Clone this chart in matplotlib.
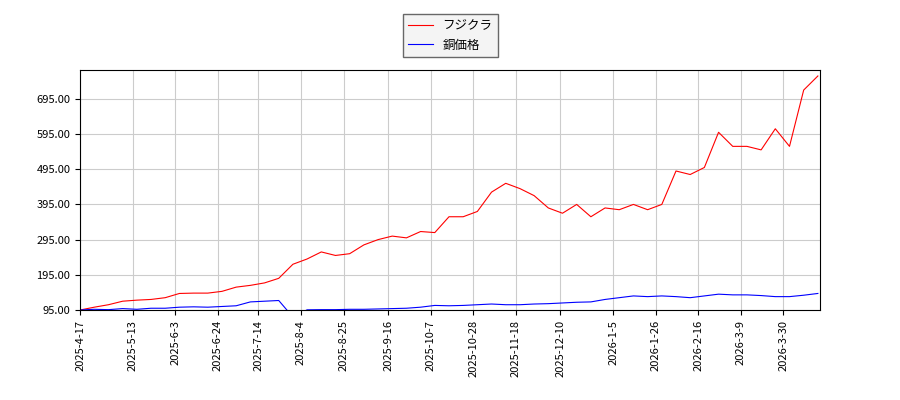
import numpy as np
import pandas as pd
import matplotlib
matplotlib.use("Agg")
import matplotlib.pyplot as plt

plt.rcParams['font.family'] = ['Noto Sans CJK JP', 'DejaVu Sans']

dates = pd.date_range("2025-04-17", periods=53, freq="7D")
fujikura = [95, 103, 110, 120, 123, 125, 130, 142, 143, 143, 148, 160, 165, 172, 185, 225,
            240, 260, 250, 255, 280, 295, 305, 300, 318, 315, 360, 360, 375, 430, 455, 440,
            420, 385, 370, 395, 360, 385, 380, 395, 380, 395, 490, 480, 500, 600, 560, 560,
            550, 610, 560, 720, 760]
copper = [95, 97, 96, 99, 97, 100, 100, 103, 104, 103, 105, 107, 118, 120, 122, 75,
          95.5, 96, 96, 97, 97, 98, 99, 100, 103, 108, 107, 108, 110, 112, 110, 110,
          112, 113, 115, 117, 118, 125, 130, 135, 133, 135, 133, 130, 135, 140, 138, 138,
          136, 133, 133, 137, 142]
tick_labels = ["2025-4-17", "2025-5-13", "2025-6-3", "2025-6-24", "2025-7-14", "2025-8-4",
               "2025-8-25", "2025-9-16", "2025-10-7", "2025-10-28", "2025-11-18", "2025-12-10",
               "2026-1-5", "2026-1-26", "2026-2-16", "2026-3-9", "2026-3-30"]
tick_dates = pd.to_datetime(tick_labels)

fig = plt.figure(figsize=(9, 4), dpi=100)
ax = fig.add_axes([0.089, 0.225, 0.822, 0.6])
ax.plot(dates, fujikura, color="red", lw=0.8, label="フジクラ")
ax.plot(dates, copper, color="blue", lw=0.8, label="銅価格")
ax.set_ylim(95, 777)
ax.set_xlim(pd.Timestamp("2025-04-17"), pd.Timestamp("2026-04-17"))
ax.set_yticks(np.arange(95, 700, 100))
ax.yaxis.set_major_formatter(plt.FormatStrFormatter("%.2f"))
ax.set_xticks(tick_dates)
ax.set_xticklabels(tick_labels, rotation=90)
ax.tick_params(labelsize=8)
ax.grid(True, color="#cccccc")
leg = fig.legend(loc="upper center", bbox_to_anchor=(0.5, 0.98), fontsize=9, fancybox=False,
                 edgecolor="#444444")
leg.get_frame().set_facecolor("#f2f2f2")
fig.savefig("out.png", dpi=100)
